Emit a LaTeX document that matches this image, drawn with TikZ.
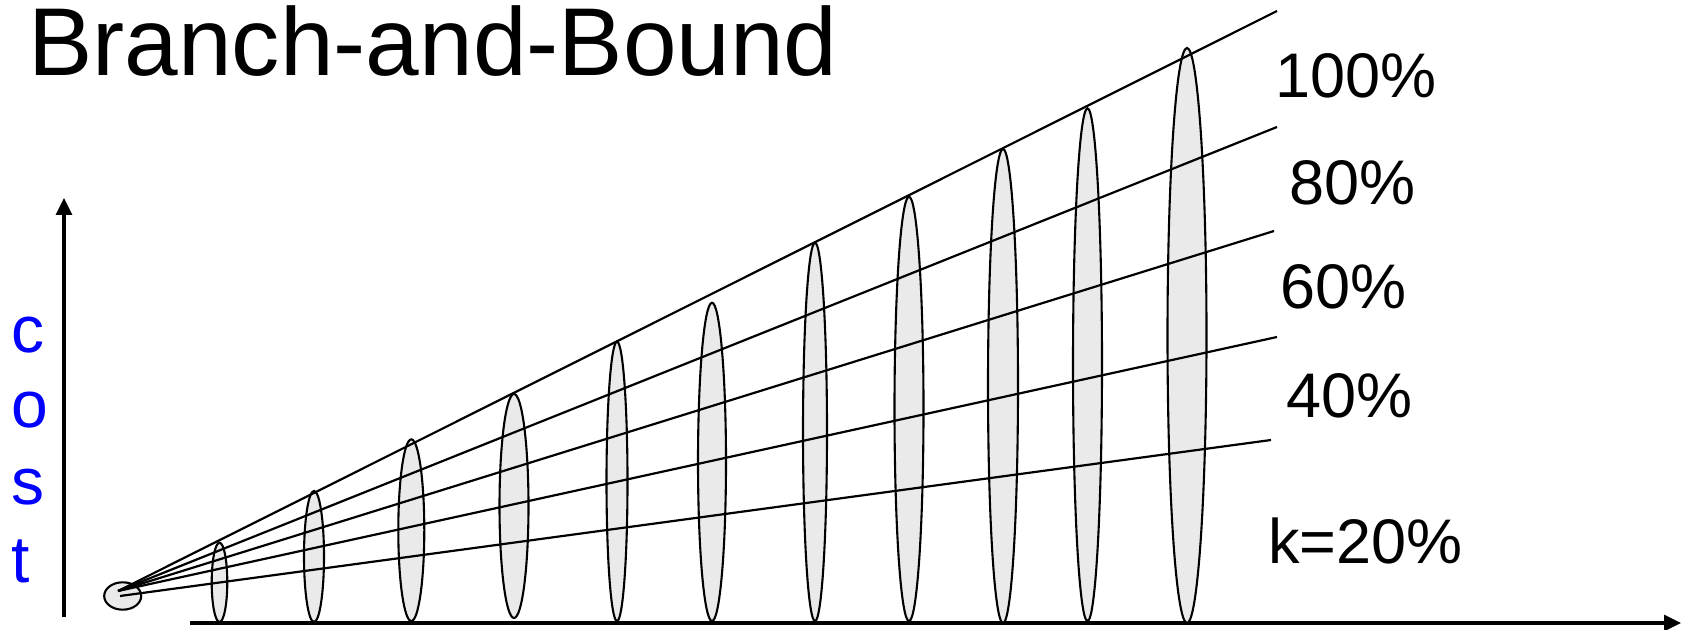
\documentclass[tikz,border=0pt]{standalone}
\usepackage{fontspec}
\setmainfont{Liberation Sans}
\usetikzlibrary{shapes.geometric, arrows.meta}
\definecolor{fillgray}{RGB}{234,234,234}
\definecolor{costblue}{RGB}{0,0,255}
\begin{document}
\begin{tikzpicture}[x=0.5pt, y=-0.5pt,
  ell/.style={ellipse, draw=black, fill=fillgray, line width=1.05pt, inner sep=0pt, outer sep=0pt},
  fan/.style={line width=1.1pt, draw=black},
  axisline/.style={line width=1.6pt, draw=black, -{Triangle[length=8.5pt,width=8pt]}},
  pct/.style={anchor=base west, inner sep=0pt, font=\fontsize{31.5}{37}\selectfont},
  costl/.style={anchor=base west, inner sep=0pt, text=costblue, font=\fontsize{33}{40}\selectfont},
  titlestyle/.style={anchor=base west, inner sep=0pt, font=\fontsize{48.2}{58}\selectfont}
]
\useasboundingbox (0,0) rectangle (1682,630);

% title
\node[titlestyle] (title) at (28,76) {Branch-and-Bound};

% axes
\coordinate (ybot) at (64,617);
\coordinate (ytop) at (64,198);
\coordinate (xleft) at (190,623);
\coordinate (xright) at (1681,623);
\draw[axisline] (ybot) -- (ytop);
\draw[axisline] (xleft) -- (xright);

% cost label
\node[costl] (lc) at (11,353) {c};
\node[costl] (lo) at (11,428) {o};
\node[costl] (ls) at (11,505) {s};
\node[costl] (lt) at (11,582) {t};

% ellipses (levels)
\node[ell, minimum width=7.8pt,  minimum height=39.65pt]  (e1)  at (219.5,582.35) {};
\node[ell, minimum width=10pt,   minimum height=65.5pt]   (e2)  at (314,556.5) {};
\node[ell, minimum width=13pt,   minimum height=90.85pt]  (e3)  at (411.3,530.2) {};
\node[ell, minimum width=14.5pt, minimum height=112pt]    (e4)  at (514,506) {};
\node[ell, minimum width=10.5pt, minimum height=139.65pt] (e5)  at (617,481.4) {};
\node[ell, minimum width=14pt,   minimum height=159.15pt] (e6)  at (712,461.9) {};
\node[ell, minimum width=12pt,   minimum height=189.15pt] (e7)  at (815,431.9) {};
\node[ell, minimum width=14.5pt, minimum height=212.15pt] (e8)  at (909,408.9) {};
\node[ell, minimum width=15pt,   minimum height=237pt]    (e9)  at (1003,386) {};
\node[ell, minimum width=14.5pt, minimum height=256.35pt] (e10) at (1087.5,364.7) {};
\node[ell, minimum width=19.5pt, minimum height=287.5pt]  (e11) at (1187,335.5) {};

% root
\node[ell, minimum width=18.5pt, minimum height=13.7pt] (root) at (122.7,596) {};

% fan lines
\coordinate (o) at (118,591);
\coordinate (o2) at (120,596);
\coordinate (r100) at (1277,11);
\coordinate (r80) at (1277,127);
\coordinate (r60) at (1274,231);
\coordinate (r40) at (1277,337);
\coordinate (r20) at (1271,440);
\draw[fan] (o) -- (r100);
\draw[fan] (o) -- (r80);
\draw[fan] (o) -- (r60);
\draw[fan] (o) -- (r40);
\draw[fan] (o2) -- (r20);

% percentage labels
\node[pct] (p100) at (1275,98) {100\%};
\node[pct] (p80) at (1289,205) {80\%};
\node[pct] (p60) at (1280,309) {60\%};
\node[pct] (p40) at (1286,418) {40\%};
\node[pct] (p20) at (1268,563) {k=20\%};
\end{tikzpicture}
\end{document}
